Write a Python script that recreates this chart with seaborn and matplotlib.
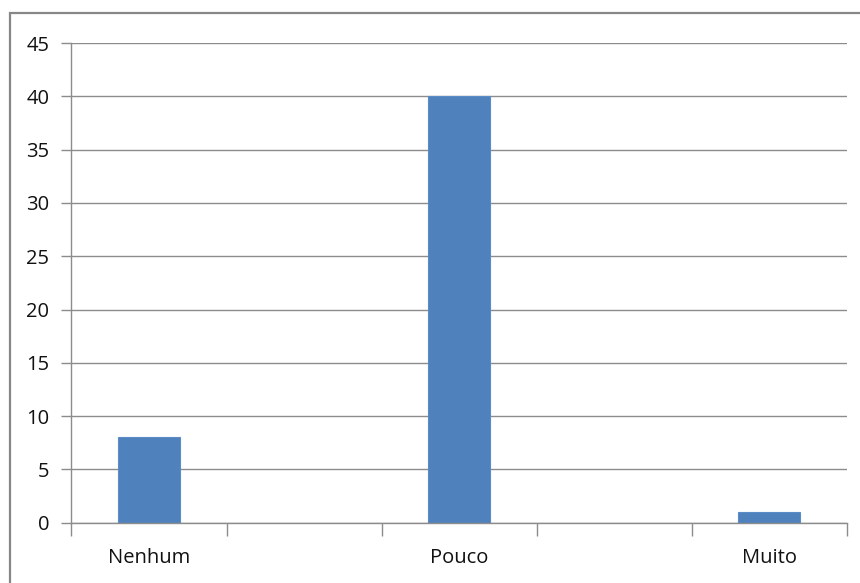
import matplotlib
matplotlib.use("Agg")
import matplotlib.pyplot as plt
from matplotlib.patches import Rectangle
import pandas as pd
import seaborn as sns

# Answer categories (blank slots keep the spacing between columns)
categories = ["Nenhum", " ", "Pouco", "  ", "Muito"]
counts = [8, None, 40, None, 1]
y_ticks = [0, 5, 10, 15, 20, 25, 30, 35, 40, 45]

df = pd.DataFrame({"categoria": categories, "total": counts})

sns.set_theme(style="white")
plt.rcParams["font.family"] = ["Open Sans", "DejaVu Sans"]

fig = plt.figure(figsize=(8.6, 5.83), dpi=100)
ax = fig.add_axes([0.0831, 0.1034, 0.9015, 0.8228])

sns.barplot(data=df, x="categoria", y="total", order=categories,
            color="#4F81BD", saturation=1, width=0.4,
            edgecolor="#5B8CC6", linewidth=0.8, ax=ax)

ax.set_ylim(0, 45)
ax.set_xlim(-0.5, len(categories) - 0.5)
ax.set_yticks(y_ticks)
ax.set_yticklabels([str(v) for v in y_ticks])
ax.set_xlabel("")
ax.set_ylabel("")

# horizontal gridlines
ax.set_axisbelow(True)
ax.yaxis.grid(True, color="#8C8C8C", linewidth=1.0)
ax.xaxis.grid(False)

for side in ["top", "right"]:
    ax.spines[side].set_visible(False)
ax.spines["left"].set_color("#8C8C8C")
ax.spines["bottom"].set_color("#8C8C8C")
ax.spines["left"].set_linewidth(1.0)
ax.spines["bottom"].set_linewidth(1.0)

# x ticks sit on the category boundaries, labels at category centers
ax.set_xticks([i - 0.5 for i in range(len(categories) + 1)])
ax.set_xticklabels([])
ax.set_xticks(range(len(categories)), minor=True)
ax.set_xticklabels(categories, minor=True)
ax.tick_params(axis="x", which="major", length=9, width=1.0,
               color="#8C8C8C", direction="out", bottom=True)
ax.tick_params(axis="x", which="minor", length=0, pad=18,
               labelsize=14.5, labelcolor="#111111")
ax.tick_params(axis="y", length=7, width=1.0, color="#8C8C8C",
               direction="out", left=True, pad=9,
               labelsize=14.5, labelcolor="#111111")

# outer chart frame
fig.patches.append(Rectangle((10 / 860, -0.1), 1.2, 1 - 13 / 583 + 0.1,
                             transform=fig.transFigure, fill=False,
                             edgecolor="#878787", linewidth=1.6))

fig.savefig("out.png", dpi=100)
